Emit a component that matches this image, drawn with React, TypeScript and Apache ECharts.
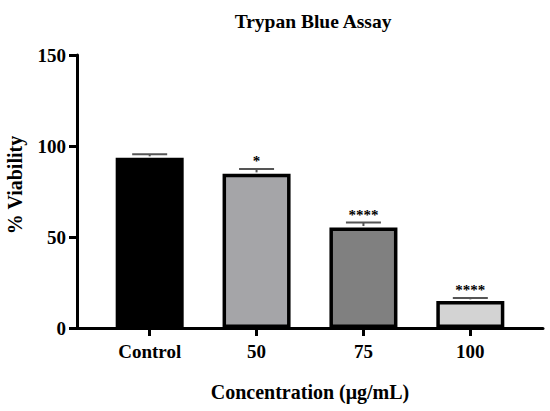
import React, { useEffect, useRef } from "react";
import * as echarts from "echarts";

const categories = ["Control", "50", "75", "100"];
const viability = [93.5, 84.7, 55.2, 14.9];
const errors = [1.9, 2.7, 2.7, 1.6];
const significance = ["", "*", "****", "****"];
const barColors = ["#000000", "#a5a5a8", "#808080", "#d3d3d3"];
const categoryPositions = [0, 1, 2, 3];

const FONT = "Liberation Serif, serif";

export default function App() {
  const ref = useRef<HTMLDivElement>(null);

  useEffect(() => {
    document.body.style.margin = "0";
    if (!ref.current) return;
    const chart = echarts.init(ref.current, null, { renderer: "svg" });
    const option: any = {
      animation: false,
      backgroundColor: "#ffffff",
      title: {
        text: "Trypan Blue Assay",
        left: 308,
        top: 7,
        textAlign: "center",
        textStyle: {
          fontFamily: FONT,
          fontWeight: "bold",
          fontSize: 19.5,
          color: "#000",
          lineHeight: 19,
        },
      },
      grid: {
        left: 77,
        right: 7,
        top: 55,
        bottom: 83,
        containLabel: false,
        outerBoundsMode: "none",
      },
      xAxis: {
        type: "value",
        min: -0.68,
        max: 3.68,
        name: "Concentration (μg/mL)",
        nameLocation: "middle",
        nameGap: 54,
        nameTextStyle: {
          fontFamily: FONT,
          fontWeight: "bold",
          fontSize: 20,
          color: "#000",
        },
        splitLine: { show: false },
        axisLine: { show: true, onZero: false, lineStyle: { color: "#000", width: 3 } },
        axisTick: {
          show: true,
          length: 8,
          inside: false,
          customValues: categoryPositions,
          lineStyle: { color: "#000", width: 3 },
        },
        axisLabel: {
          customValues: categoryPositions,
          margin: 14,
          formatter: (v: number) => categories[Math.round(v)] ?? "",
          fontFamily: FONT,
          fontWeight: "bold",
          fontSize: 19,
          color: "#000",
        },
      },
      yAxis: {
        type: "value",
        min: 0,
        max: 150,
        interval: 50,
        splitLine: { show: false },
        axisLine: { show: true, onZero: false, lineStyle: { color: "#000", width: 3 } },
        axisTick: {
          show: true,
          length: 8,
          inside: false,
          lineStyle: { color: "#000", width: 3 },
        },
        axisLabel: {
          margin: 11,
          fontFamily: FONT,
          fontWeight: "bold",
          fontSize: 19,
          color: "#000",
        },
      },
      graphic: [
        {
          type: "text",
          x: 15,
          y: 185,
          rotation: Math.PI / 2,
          style: {
            text: "% Viability",
            align: "center",
            verticalAlign: "middle",
            fontFamily: FONT,
            fontWeight: "bold",
            fontSize: 20,
            fill: "#000",
          },
        },
      ],
      series: [
        {
          type: "bar",
          barWidth: 68,
          data: categories.map((c, i) => ({
            value: [categoryPositions[i], viability[i]],
            itemStyle: {
              color: barColors[i],
              borderColor: "#000",
              borderWidth: 3.5,
            },
          })),
          z: 2,
        },
        {
          type: "custom",
          z: 3,
          data: categories.map((c, i) => [categoryPositions[i], viability[i], errors[i]]),
          renderItem: (params: any, api: any) => {
            const i = params.dataIndex;
            const x = api.value(0);
            const mean = api.value(1);
            const err = api.value(2);
            const base = api.coord([x, mean]);
            const top = api.coord([x, mean + err]);
            const half = 17.5;
            return {
              type: "group",
              children: [
                {
                  type: "line",
                  shape: { x1: base[0], y1: base[1] - 1.5, x2: top[0], y2: top[1] },
                  style: { stroke: "#555", lineWidth: 2 },
                },
                {
                  type: "line",
                  shape: { x1: top[0] - half, y1: top[1], x2: top[0] + half, y2: top[1] },
                  style: { stroke: "#555", lineWidth: 2 },
                },
                {
                  type: "text",
                  x: top[0],
                  y: top[1] - 8,
                  style: {
                    text: significance[i],
                    align: "center",
                    verticalAlign: "middle",
                    fontFamily: FONT,
                    fontWeight: "bold",
                    fontSize: 15,
                    fill: "#000",
                  },
                },
              ],
            };
          },
        },
      ],
    };
    chart.setOption(option);
    return () => {
      chart.dispose();
    };
  }, []);

  return <div ref={ref} style={{ width: 550, height: 411 }} />;
}
